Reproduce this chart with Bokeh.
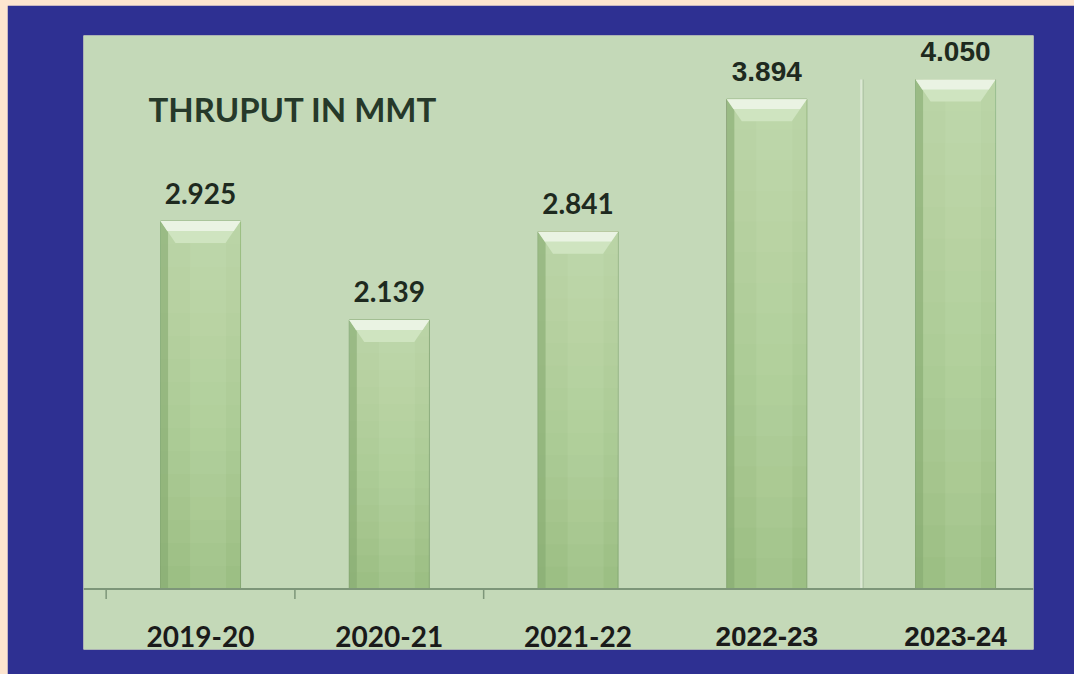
import numpy as np
from bokeh.plotting import figure
from bokeh.models import ColumnDataSource, Range1d, Span, Label
from bokeh.layouts import column
from bokeh.embed import file_html
from bokeh.resources import INLINE

# ---- data ----
years = ["2019-20", "2020-21", "2021-22", "2022-23", "2023-24"]
thruput = [2.925, 2.139, 2.841, 3.894, 4.050]
value_labels = ["2.925", "2.139", "2.841", "3.894", "4.050"]
title_text = "THRUPUT IN MMT"

# ---- styling ----
BLUE = "#2E3092"
PEACH = "#FDE5CF"
PANEL = "#C4D9B8"
BAR = "#9CBF84"

xs = np.arange(len(years), dtype=float)
vals = np.array(thruput)
bw = 0.424
fonts = ["Lato", "Lato", "Lato", "Liberation Sans", "Liberation Sans"]
ypx = 614 / (4.40 + 0.48)

p = figure(width=1067, height=669, output_backend="svg", toolbar_location=None,
           x_range=Range1d(-0.62, 4.413), y_range=Range1d(-0.48, 4.40),
           x_axis_location=None, y_axis_location=None,
           min_border_left=76, min_border_right=41, min_border_top=30, min_border_bottom=25)
p.background_fill_color = PANEL
p.border_fill_color = BLUE
p.outline_line_color = None
p.grid.visible = False

src = ColumnDataSource(dict(x=xs, top=vals, year=years, lab=value_labels, font=fonts))

# divider line between 4th and 5th categories
p.segment(x0=[xs[3] + 0.5], y0=[0], x1=[xs[3] + 0.5], y1=[vals.max()],
          line_color="#DCE8D4", line_width=2)
p.segment(x0=[xs[3] + 0.5 + 0.012], y0=[0], x1=[xs[3] + 0.5 + 0.012], y1=[vals.max()],
          line_color="#B2C6A8", line_width=1)

# bars
p.vbar(x="x", top="top", bottom=0, width=bw, source=src, fill_color=BAR,
       line_color="#86A873", line_width=1)
nsteps = 16
for k in range(1, nsteps):
    p.vbar(x=xs, top=vals, bottom=vals * k / nsteps, width=bw, fill_color="#D8ECC8",
           fill_alpha=0.055, line_color=None)
# lighter centre-right strip
p.vbar(x=xs + 0.04, top=vals, bottom=0, width=bw * 0.45, fill_color="#D8ECC8",
       fill_alpha=0.12, line_color=None)
# darker left edge
p.vbar(x=xs - bw / 2 + 0.02, top=vals, bottom=0, width=0.04, fill_color="#86AA70",
       fill_alpha=0.6, line_color=None)

# top bevel caps
cap = 22 / ypx
inset = 15 / 188.75
cap_xs = [[x - bw / 2, x + bw / 2, x + bw / 2 - inset, x - bw / 2 + inset] for x in xs]
cap_ys = [[v, v, v - cap, v - cap] for v in vals]
p.patches(cap_xs, cap_ys, fill_color="#CFE4C0", line_color=None)
top_ys = [[v, v, v - cap * 0.45, v - cap * 0.45] for v in vals]
top_xs = [[x - bw / 2, x + bw / 2, x + bw / 2 - inset * 0.45, x - bw / 2 + inset * 0.45] for x in xs]
p.patches(top_xs, top_ys, fill_color="#EAF3E3", line_color=None)

# axis line and ticks
p.add_layout(Span(location=0, dimension="width", line_color="#7D9679", line_width=2))
p.segment(x0=xs[:3] - 0.5, y0=0, x1=xs[:3] - 0.5, y1=-10 / ypx, line_color="#7D9679", line_width=1.5)

# value labels
p.text(x="x", y="top", text="lab", source=src, text_font="font", text_font_style="bold",
       text_font_size="28px", text_color="#1E2A1F", text_align="center",
       text_baseline="alphabetic", y_offset=-28)

# category labels
p.text(x="x", y=0, text="year", source=src, text_font="font", text_font_style="bold",
       text_font_size="28px", text_color="#1A1A1A", text_align="center",
       text_baseline="alphabetic", y_offset=47)

# title
p.add_layout(Label(x=-0.276, y=3.816, text=title_text, text_font="Lato",
                   text_font_style="bold", text_font_size="33px", text_color="#26392A",
                   text_baseline="alphabetic"))

layout = column(p, styles={"background-color": PEACH, "padding": "5px 0px 0px 7px"})
open("out.html", "w").write(file_html(layout, INLINE))
